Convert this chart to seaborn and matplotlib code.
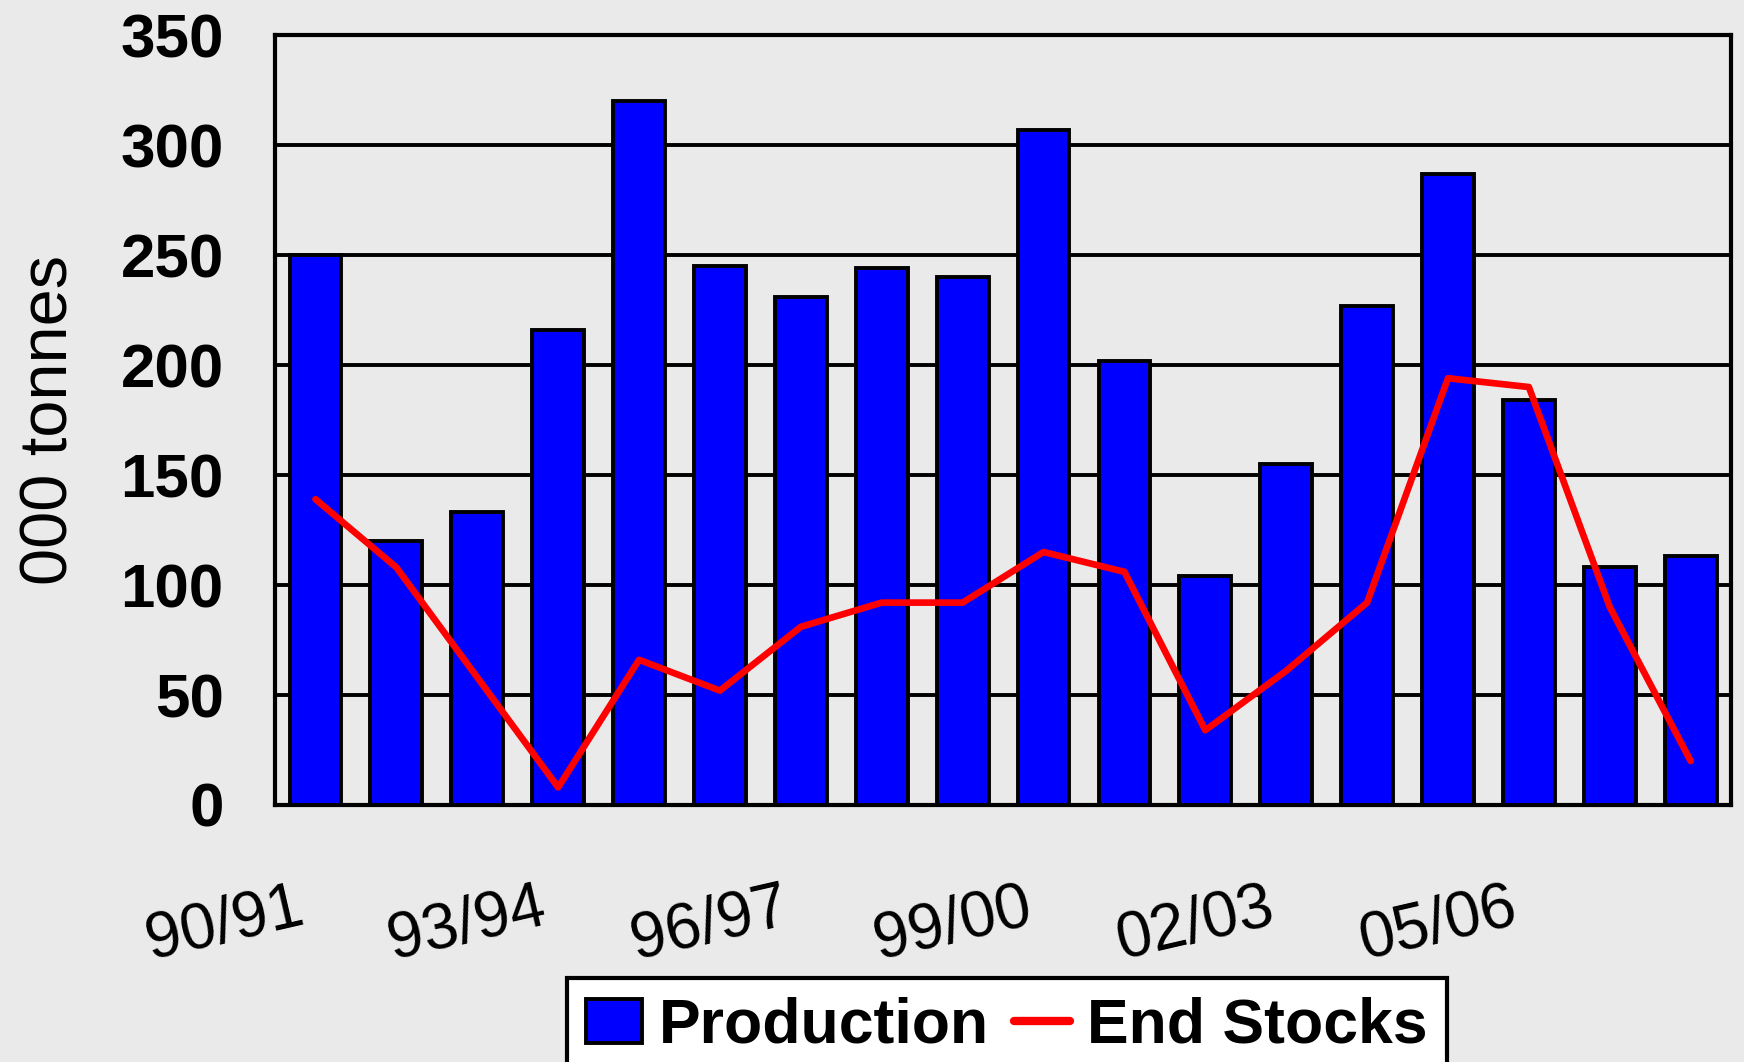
import numpy as np
import pandas as pd
import seaborn as sns
import matplotlib.pyplot as plt
from matplotlib.transforms import ScaledTranslation

# season labels, production bars and end stocks line (000 tonnes)
seasons = ['90/91', '91/92', '92/93', '93/94', '94/95', '95/96', '96/97', '97/98', '98/99',
           '99/00', '00/01', '01/02', '02/03', '03/04', '04/05', '05/06', '06/07', '07/08']
production = [250, 120, 133, 216, 320, 245, 231, 244, 240, 307, 202, 104, 155, 227, 287, 184, 108, 113]
end_stocks = [139, 108, 58, 8, 66, 52, 81, 92, 92, 115, 106, 34, 61, 92, 194, 190, 90, 20]
y_ticks = [0, 50, 100, 150, 200, 250, 300, 350]
shown_labels = ['90/91', '93/94', '96/97', '99/00', '02/03', '05/06']

df = pd.DataFrame({'season': seasons, 'production': production, 'stocks': end_stocks})
df['pos'] = np.arange(len(df))

sns.set_style('white')
plt.rcParams['font.family'] = ['Liberation Sans', 'DejaVu Sans']
plt.rcParams['text.color'] = 'black'
plt.rcParams['axes.labelcolor'] = 'black'
plt.rcParams['xtick.color'] = 'black'
plt.rcParams['ytick.color'] = 'black'
bg = '#eaeaea'

fig = plt.figure(figsize=(17.44, 10.62), dpi=100, facecolor=bg)
ax = fig.add_axes([0.1577, 0.242, 0.8349, 0.725])
ax.set_facecolor(bg)

sns.barplot(data=df, x='season', y='production', order=seasons, color='#0000ff',
            saturation=1, edgecolor='black', linewidth=2.8, width=0.64,
            label='Production', ax=ax, zorder=3)
sns.lineplot(data=df, x='pos', y='stocks', color='#ff0000', linewidth=4.8,
             label='End Stocks', ax=ax, zorder=4)
if ax.get_legend() is not None:
    ax.get_legend().remove()

ax.set_xlim(-0.5, len(seasons) - 0.5)
ax.set_ylim(0, 350)
ax.set_axisbelow(True)
ax.yaxis.grid(True, color='black', linewidth=2.8)
ax.xaxis.grid(False)
for s in ax.spines.values():
    s.set_color('black')
    s.set_linewidth(3)

ax.set_yticks(y_ticks)
ax.set_yticklabels([str(v) for v in y_ticks], fontsize=44.6, fontweight='bold')
ax.tick_params(axis='y', direction='out', length=15, width=2.8, pad=22)

ax.set_xticks(np.arange(0, len(seasons), 3))
ax.set_xticklabels(shown_labels, fontsize=46, rotation=13,
                   ha='right', va='top', rotation_mode='anchor')
ax.set_xticks(np.arange(-0.5, len(seasons), 1), minor=True)
ax.tick_params(axis='x', which='major', length=0, pad=52)
ax.tick_params(axis='x', which='minor', direction='out', length=16, width=2.8)
shift = ScaledTranslation(-0.2, 0, fig.dpi_scale_trans)
for lab in ax.get_xticklabels():
    lab.set_transform(lab.get_transform() + shift)

ax.set_xlabel('')
ax.set_ylabel('000 tonnes', fontsize=48, labelpad=28)

handles, labels = ax.get_legend_handles_labels()
order = [labels.index('Production'), labels.index('End Stocks')]
leg = fig.legend([handles[i] for i in order], [labels[i] for i in order],
                 loc='upper left', bbox_to_anchor=(567 / 1744, 1 - 978 / 1062),
                 ncol=2, prop={'size': 45, 'weight': 'bold'}, handlelength=0.9, handleheight=0.7,
                 handletextpad=0.27, columnspacing=0.4, borderpad=0.3, borderaxespad=0,
                 fancybox=False, edgecolor='black', framealpha=1, facecolor='white')
leg.get_frame().set_linewidth(3)
leg.get_lines()[0].set_linewidth(6)

fig.savefig('out.png', dpi=100, facecolor=bg)
